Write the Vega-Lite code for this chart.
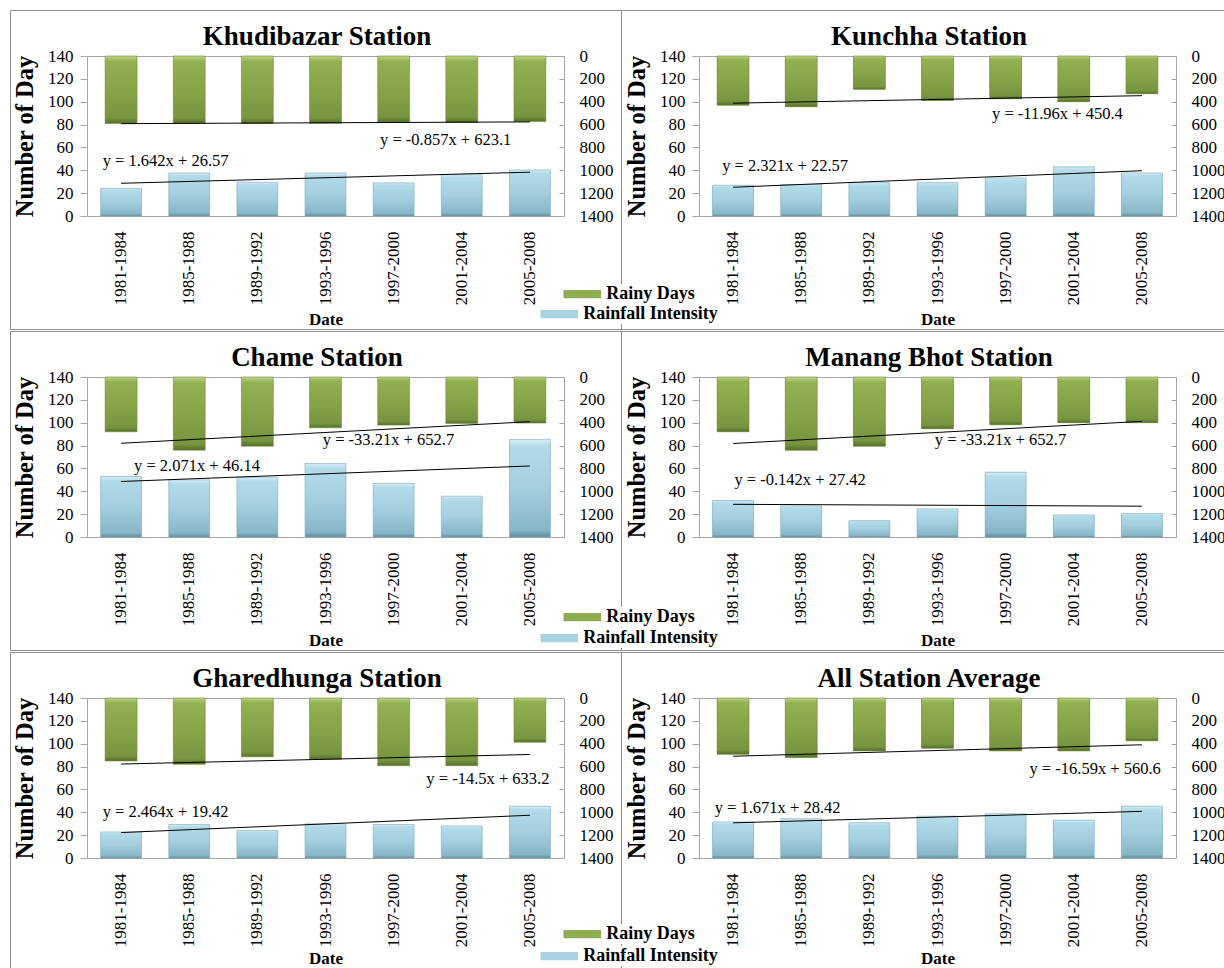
{
  "$schema": "https://vega.github.io/schema/vega-lite/v6.json",
  "padding": {"left": 9, "top": 9, "right": 0, "bottom": 0},
  "autosize": {"type": "pad"},
  "background": "white",
  "datasets": {
    "bars": [
      {"station": "Khudibazar", "period": "1981-1984", "idx": 1, "intensity": 24.0, "rainy_days": 590},
      {"station": "Khudibazar", "period": "1985-1988", "idx": 2, "intensity": 37.7, "rainy_days": 588},
      {"station": "Khudibazar", "period": "1989-1992", "idx": 3, "intensity": 29.5, "rainy_days": 590},
      {"station": "Khudibazar", "period": "1993-1996", "idx": 4, "intensity": 37.7, "rainy_days": 588},
      {"station": "Khudibazar", "period": "1997-2000", "idx": 5, "intensity": 29.0, "rainy_days": 578},
      {"station": "Khudibazar", "period": "2001-2004", "idx": 6, "intensity": 36.2, "rainy_days": 582},
      {"station": "Khudibazar", "period": "2005-2008", "idx": 7, "intensity": 40.3, "rainy_days": 574},
      {"station": "Kunchha", "period": "1981-1984", "idx": 1, "intensity": 26.9, "rainy_days": 430},
      {"station": "Kunchha", "period": "1985-1988", "idx": 2, "intensity": 27.5, "rainy_days": 444},
      {"station": "Kunchha", "period": "1989-1992", "idx": 3, "intensity": 29.2, "rainy_days": 292},
      {"station": "Kunchha", "period": "1993-1996", "idx": 4, "intensity": 29.2, "rainy_days": 389},
      {"station": "Kunchha", "period": "1997-2000", "idx": 5, "intensity": 33.3, "rainy_days": 374},
      {"station": "Kunchha", "period": "2001-2004", "idx": 6, "intensity": 43.0, "rainy_days": 400},
      {"station": "Kunchha", "period": "2005-2008", "idx": 7, "intensity": 37.7, "rainy_days": 330},
      {"station": "Chame", "period": "1981-1984", "idx": 1, "intensity": 52.9, "rainy_days": 479},
      {"station": "Chame", "period": "1985-1988", "idx": 2, "intensity": 50.0, "rainy_days": 640},
      {"station": "Chame", "period": "1989-1992", "idx": 3, "intensity": 52.3, "rainy_days": 605},
      {"station": "Chame", "period": "1993-1996", "idx": 4, "intensity": 64.3, "rainy_days": 444},
      {"station": "Chame", "period": "1997-2000", "idx": 5, "intensity": 46.8, "rainy_days": 421},
      {"station": "Chame", "period": "2001-2004", "idx": 6, "intensity": 35.7, "rainy_days": 406},
      {"station": "Chame", "period": "2005-2008", "idx": 7, "intensity": 85.4, "rainy_days": 403},
      {"station": "Manang Bhot", "period": "1981-1984", "idx": 1, "intensity": 31.9, "rainy_days": 479},
      {"station": "Manang Bhot", "period": "1985-1988", "idx": 2, "intensity": 27.2, "rainy_days": 640},
      {"station": "Manang Bhot", "period": "1989-1992", "idx": 3, "intensity": 14.3, "rainy_days": 605},
      {"station": "Manang Bhot", "period": "1993-1996", "idx": 4, "intensity": 24.6, "rainy_days": 453},
      {"station": "Manang Bhot", "period": "1997-2000", "idx": 5, "intensity": 56.7, "rainy_days": 418},
      {"station": "Manang Bhot", "period": "2001-2004", "idx": 6, "intensity": 19.3, "rainy_days": 400},
      {"station": "Manang Bhot", "period": "2005-2008", "idx": 7, "intensity": 20.5, "rainy_days": 400},
      {"station": "Gharedhunga", "period": "1981-1984", "idx": 1, "intensity": 22.8, "rainy_days": 551},
      {"station": "Gharedhunga", "period": "1985-1988", "idx": 2, "intensity": 29.3, "rainy_days": 580},
      {"station": "Gharedhunga", "period": "1989-1992", "idx": 3, "intensity": 24.0, "rainy_days": 515},
      {"station": "Gharedhunga", "period": "1993-1996", "idx": 4, "intensity": 29.9, "rainy_days": 536},
      {"station": "Gharedhunga", "period": "1997-2000", "idx": 5, "intensity": 29.3, "rainy_days": 592},
      {"station": "Gharedhunga", "period": "2001-2004", "idx": 6, "intensity": 28.1, "rainy_days": 592},
      {"station": "Gharedhunga", "period": "2005-2008", "idx": 7, "intensity": 45.4, "rainy_days": 387},
      {"station": "All Station Average", "period": "1981-1984", "idx": 1, "intensity": 31.6, "rainy_days": 492},
      {"station": "All Station Average", "period": "1985-1988", "idx": 2, "intensity": 34.3, "rainy_days": 521},
      {"station": "All Station Average", "period": "1989-1992", "idx": 3, "intensity": 30.8, "rainy_days": 463},
      {"station": "All Station Average", "period": "1993-1996", "idx": 4, "intensity": 36.6, "rainy_days": 439},
      {"station": "All Station Average", "period": "1997-2000", "idx": 5, "intensity": 38.7, "rainy_days": 463},
      {"station": "All Station Average", "period": "2001-2004", "idx": 6, "intensity": 33.1, "rainy_days": 463},
      {"station": "All Station Average", "period": "2005-2008", "idx": 7, "intensity": 45.4, "rainy_days": 375}
    ],
    "notes": [
      {"station": "Khudibazar", "label": "y = 1.642x + 26.57", "nx": 0.73, "ny": 48.5},
      {"station": "Khudibazar", "label": "y = -0.857x + 623.1", "nx": 4.8, "ny": 66.1},
      {"station": "Kunchha", "label": "y = -11.96x + 450.4", "nx": 4.8, "ny": 89.4},
      {"station": "Kunchha", "label": "y = 2.321x + 22.57", "nx": 0.84, "ny": 43.6},
      {"station": "Chame", "label": "y = -33.21x + 652.7", "nx": 3.96, "ny": 84.5},
      {"station": "Chame", "label": "y = 2.071x + 46.14", "nx": 1.19, "ny": 62.0},
      {"station": "Manang Bhot", "label": "y = -33.21x + 652.7", "nx": 3.96, "ny": 84.5},
      {"station": "Manang Bhot", "label": "y = -0.142x + 27.42", "nx": 1.02, "ny": 50.3},
      {"station": "Gharedhunga", "label": "y = -14.5x + 633.2", "nx": 5.48, "ny": 68.8},
      {"station": "Gharedhunga", "label": "y = 2.464x + 19.42", "nx": 0.73, "ny": 40.4},
      {"station": "All Station Average", "label": "y = -16.59x + 560.6", "nx": 5.35, "ny": 77.6},
      {"station": "All Station Average", "label": "y = 1.671x + 28.42", "nx": 0.73, "ny": 43.9}
    ]
  },
  "vconcat": [
    {
      "hconcat": [
        {
          "width": 611, "height": 319,
          "title": {"text": "Khudibazar Station", "offset": -62, "baseline": "alphabetic", "dx": 1.5},
          "layer": [
            {
              "data": {"name": "bars"},
              "transform": [{"filter": {"field": "station", "equal": "Khudibazar"}}],
              "mark": {"type": "bar", "stroke": "#7aa8b8", "strokeWidth": 0.6, "fill": {"gradient": "linear", "x1": 0, "y1": 0, "x2": 0, "y2": 1, "stops": [{"offset": 0, "color": "#d6eef6"}, {"offset": 0.07, "color": "#b3dbe9"}, {"offset": 0.5, "color": "#a3cfdf"}, {"offset": 0.93, "color": "#87b6c7"}, {"offset": 1, "color": "#5d8c9c"}]}},
              "encoding": {
                "x": {"field": "period", "type": "ordinal", "sort": null, "scale": {"range": [77, 554], "paddingInner": 0.4, "paddingOuter": 0.2}, "axis": {"orient": "bottom", "offset": -113, "title": "Date", "labelAngle": -90, "ticks": false, "tickSize": 0, "labelPadding": 15, "titlePadding": 7}},
                "y": {"field": "intensity", "type": "quantitative", "scale": {"domain": [0, 140], "range": [206, 46], "nice": false}, "axis": {"orient": "left", "offset": -77, "values": [0, 20, 40, 60, 80, 100, 120, 140], "title": "Number of Day", "titleFontSize": 24.5, "tickSize": 7, "labelPadding": 7, "titlePadding": 10}}
              }
            },
            {
              "data": {"name": "bars"},
              "transform": [{"filter": {"field": "station", "equal": "Khudibazar"}}],
              "mark": {"type": "bar", "width": {"band": 0.78}, "stroke": "#6f8b3a", "strokeWidth": 0.6, "fill": {"gradient": "linear", "x1": 0, "y1": 0, "x2": 0, "y2": 1, "stops": [{"offset": 0, "color": "#bcd487"}, {"offset": 0.08, "color": "#93b153"}, {"offset": 0.5, "color": "#87a548"}, {"offset": 0.92, "color": "#779440"}, {"offset": 1, "color": "#566f29"}]}},
              "encoding": {
                "x": {"field": "period", "type": "ordinal", "sort": null, "scale": {"range": [77, 554], "paddingInner": 0.4, "paddingOuter": 0.2}, "axis": null},
                "y": {"field": "rainy_days", "type": "quantitative", "scale": {"domain": [0, 1400], "range": [46, 206], "nice": false}, "axis": {"orient": "right", "offset": -57, "values": [0, 200, 400, 600, 800, 1000, 1200, 1400], "format": "d", "title": null, "tickSize": -5, "labelPadding": 20}}
              }
            },
            {
              "data": {"name": "bars"},
              "transform": [{"filter": {"field": "station", "equal": "Khudibazar"}}, {"regression": "intensity", "on": "idx"}],
              "mark": {"type": "line", "color": "black", "strokeWidth": 1},
              "encoding": {
                "x": {"field": "idx", "type": "quantitative", "scale": {"domain": [0.5, 7.5], "range": [77, 554], "nice": false, "zero": false}, "axis": {"orient": "top", "offset": -46, "labels": false, "ticks": false, "title": null, "grid": false}},
                "y": {"field": "intensity", "type": "quantitative", "scale": {"domain": [0, 140], "range": [206, 46], "nice": false}, "axis": null}
              }
            },
            {
              "data": {"name": "bars"},
              "transform": [{"filter": {"field": "station", "equal": "Khudibazar"}}, {"regression": "rainy_days", "on": "idx"}],
              "mark": {"type": "line", "color": "black", "strokeWidth": 1},
              "encoding": {
                "x": {"field": "idx", "type": "quantitative", "scale": {"domain": [0.5, 7.5], "range": [77, 554], "nice": false, "zero": false}, "axis": null},
                "y": {"field": "rainy_days", "type": "quantitative", "scale": {"domain": [0, 1400], "range": [46, 206], "nice": false}, "axis": null}
              }
            },
            {
              "data": {"name": "notes"},
              "transform": [{"filter": {"field": "station", "equal": "Khudibazar"}}],
              "mark": {"type": "text", "align": "left", "baseline": "middle", "font": "Liberation Serif", "fontSize": 16.5, "color": "black"},
              "encoding": {
                "x": {"field": "nx", "type": "quantitative", "scale": {"domain": [0.5, 7.5], "range": [77, 554], "nice": false, "zero": false}, "axis": null},
                "y": {"field": "ny", "type": "quantitative", "scale": {"domain": [0, 140], "range": [206, 46], "nice": false}, "axis": null},
                "text": {"field": "label"}
              }
            }
          ],
          "resolve": {"scale": {"x": "independent", "y": "independent"}}
        },
        {
          "width": 605, "height": 319,
          "title": {"text": "Kunchha Station", "offset": -62, "baseline": "alphabetic", "dx": 5.5},
          "layer": [
            {
              "data": {"name": "bars"},
              "transform": [{"filter": {"field": "station", "equal": "Kunchha"}}],
              "mark": {"type": "bar"},
              "encoding": {
                "x": {"field": "period", "type": "ordinal", "sort": null, "scale": {"range": [78, 555], "paddingInner": 0.4, "paddingOuter": 0.2}, "axis": null},
                "y": {"field": "intensity", "type": "quantitative", "scale": {"domain": [0, 140], "range": [206, 46], "nice": false}, "axis": null},
                "color": {"datum": "Rainfall Intensity", "scale": {"domain": ["Rainfall Intensity"], "range": ["#a7d2e2"]}, "legend": {"orient": "none", "legendX": -71.75, "legendY": 294, "title": null}}
              }
            },
            {
              "data": {"name": "bars"},
              "transform": [{"filter": {"field": "station", "equal": "Kunchha"}}],
              "mark": {"type": "bar", "width": {"band": 0.78}},
              "encoding": {
                "x": {"field": "period", "type": "ordinal", "sort": null, "scale": {"range": [78, 555], "paddingInner": 0.4, "paddingOuter": 0.2}, "axis": null},
                "y": {"field": "rainy_days", "type": "quantitative", "scale": {"domain": [0, 1400], "range": [46, 206], "nice": false}, "axis": null},
                "fill": {"datum": "Rainy Days", "scale": {"domain": ["Rainy Days"], "range": ["#8fad50"]}, "legend": {"orient": "none", "legendX": -48.75, "legendY": 274, "title": null}}
              }
            },
            {
              "data": {"name": "bars"},
              "transform": [{"filter": {"field": "station", "equal": "Kunchha"}}],
              "mark": {"type": "bar", "stroke": "#7aa8b8", "strokeWidth": 0.6, "fill": {"gradient": "linear", "x1": 0, "y1": 0, "x2": 0, "y2": 1, "stops": [{"offset": 0, "color": "#d6eef6"}, {"offset": 0.07, "color": "#b3dbe9"}, {"offset": 0.5, "color": "#a3cfdf"}, {"offset": 0.93, "color": "#87b6c7"}, {"offset": 1, "color": "#5d8c9c"}]}},
              "encoding": {
                "x": {"field": "period", "type": "ordinal", "sort": null, "scale": {"range": [78, 555], "paddingInner": 0.4, "paddingOuter": 0.2}, "axis": {"orient": "bottom", "offset": -113, "title": "Date", "labelAngle": -90, "ticks": false, "tickSize": 0, "labelPadding": 15, "titlePadding": 7}},
                "y": {"field": "intensity", "type": "quantitative", "scale": {"domain": [0, 140], "range": [206, 46], "nice": false}, "axis": {"orient": "left", "offset": -78, "values": [0, 20, 40, 60, 80, 100, 120, 140], "title": "Number of Day", "titleFontSize": 24.5, "tickSize": 7, "labelPadding": 7, "titlePadding": 10}}
              }
            },
            {
              "data": {"name": "bars"},
              "transform": [{"filter": {"field": "station", "equal": "Kunchha"}}],
              "mark": {"type": "bar", "width": {"band": 0.78}, "stroke": "#6f8b3a", "strokeWidth": 0.6, "fill": {"gradient": "linear", "x1": 0, "y1": 0, "x2": 0, "y2": 1, "stops": [{"offset": 0, "color": "#bcd487"}, {"offset": 0.08, "color": "#93b153"}, {"offset": 0.5, "color": "#87a548"}, {"offset": 0.92, "color": "#779440"}, {"offset": 1, "color": "#566f29"}]}},
              "encoding": {
                "x": {"field": "period", "type": "ordinal", "sort": null, "scale": {"range": [78, 555], "paddingInner": 0.4, "paddingOuter": 0.2}, "axis": null},
                "y": {"field": "rainy_days", "type": "quantitative", "scale": {"domain": [0, 1400], "range": [46, 206], "nice": false}, "axis": {"orient": "right", "offset": -50, "values": [0, 200, 400, 600, 800, 1000, 1200, 1400], "format": "d", "title": null, "tickSize": -5, "labelPadding": 20}}
              }
            },
            {
              "data": {"name": "bars"},
              "transform": [{"filter": {"field": "station", "equal": "Kunchha"}}, {"regression": "intensity", "on": "idx"}],
              "mark": {"type": "line", "color": "black", "strokeWidth": 1},
              "encoding": {
                "x": {"field": "idx", "type": "quantitative", "scale": {"domain": [0.5, 7.5], "range": [78, 555], "nice": false, "zero": false}, "axis": {"orient": "top", "offset": -46, "labels": false, "ticks": false, "title": null, "grid": false}},
                "y": {"field": "intensity", "type": "quantitative", "scale": {"domain": [0, 140], "range": [206, 46], "nice": false}, "axis": null}
              }
            },
            {
              "data": {"name": "bars"},
              "transform": [{"filter": {"field": "station", "equal": "Kunchha"}}, {"regression": "rainy_days", "on": "idx"}],
              "mark": {"type": "line", "color": "black", "strokeWidth": 1},
              "encoding": {
                "x": {"field": "idx", "type": "quantitative", "scale": {"domain": [0.5, 7.5], "range": [78, 555], "nice": false, "zero": false}, "axis": null},
                "y": {"field": "rainy_days", "type": "quantitative", "scale": {"domain": [0, 1400], "range": [46, 206], "nice": false}, "axis": null}
              }
            },
            {
              "data": {"name": "notes"},
              "transform": [{"filter": {"field": "station", "equal": "Kunchha"}}],
              "mark": {"type": "text", "align": "left", "baseline": "middle", "font": "Liberation Serif", "fontSize": 16.5, "color": "black"},
              "encoding": {
                "x": {"field": "nx", "type": "quantitative", "scale": {"domain": [0.5, 7.5], "range": [78, 555], "nice": false, "zero": false}, "axis": null},
                "y": {"field": "ny", "type": "quantitative", "scale": {"domain": [0, 140], "range": [206, 46], "nice": false}, "axis": null},
                "text": {"field": "label"}
              }
            }
          ],
          "resolve": {"scale": {"x": "independent", "y": "independent"}}
        }
      ],
      "spacing": 0,
      "bounds": "flush",
      "resolve": {"scale": {"color": "independent", "fill": "independent"}, "legend": {"color": "independent", "fill": "independent"}}
    },
    {
      "hconcat": [
        {
          "width": 611, "height": 319,
          "title": {"text": "Chame Station", "offset": -62, "baseline": "alphabetic", "dx": 1.5},
          "layer": [
            {
              "data": {"name": "bars"},
              "transform": [{"filter": {"field": "station", "equal": "Chame"}}],
              "mark": {"type": "bar", "stroke": "#7aa8b8", "strokeWidth": 0.6, "fill": {"gradient": "linear", "x1": 0, "y1": 0, "x2": 0, "y2": 1, "stops": [{"offset": 0, "color": "#d6eef6"}, {"offset": 0.07, "color": "#b3dbe9"}, {"offset": 0.5, "color": "#a3cfdf"}, {"offset": 0.93, "color": "#87b6c7"}, {"offset": 1, "color": "#5d8c9c"}]}},
              "encoding": {
                "x": {"field": "period", "type": "ordinal", "sort": null, "scale": {"range": [77, 554], "paddingInner": 0.4, "paddingOuter": 0.2}, "axis": {"orient": "bottom", "offset": -113, "title": "Date", "labelAngle": -90, "ticks": false, "tickSize": 0, "labelPadding": 15, "titlePadding": 7}},
                "y": {"field": "intensity", "type": "quantitative", "scale": {"domain": [0, 140], "range": [206, 46], "nice": false}, "axis": {"orient": "left", "offset": -77, "values": [0, 20, 40, 60, 80, 100, 120, 140], "title": "Number of Day", "titleFontSize": 24.5, "tickSize": 7, "labelPadding": 7, "titlePadding": 10}}
              }
            },
            {
              "data": {"name": "bars"},
              "transform": [{"filter": {"field": "station", "equal": "Chame"}}],
              "mark": {"type": "bar", "width": {"band": 0.78}, "stroke": "#6f8b3a", "strokeWidth": 0.6, "fill": {"gradient": "linear", "x1": 0, "y1": 0, "x2": 0, "y2": 1, "stops": [{"offset": 0, "color": "#bcd487"}, {"offset": 0.08, "color": "#93b153"}, {"offset": 0.5, "color": "#87a548"}, {"offset": 0.92, "color": "#779440"}, {"offset": 1, "color": "#566f29"}]}},
              "encoding": {
                "x": {"field": "period", "type": "ordinal", "sort": null, "scale": {"range": [77, 554], "paddingInner": 0.4, "paddingOuter": 0.2}, "axis": null},
                "y": {"field": "rainy_days", "type": "quantitative", "scale": {"domain": [0, 1400], "range": [46, 206], "nice": false}, "axis": {"orient": "right", "offset": -57, "values": [0, 200, 400, 600, 800, 1000, 1200, 1400], "format": "d", "title": null, "tickSize": -5, "labelPadding": 20}}
              }
            },
            {
              "data": {"name": "bars"},
              "transform": [{"filter": {"field": "station", "equal": "Chame"}}, {"regression": "intensity", "on": "idx"}],
              "mark": {"type": "line", "color": "black", "strokeWidth": 1},
              "encoding": {
                "x": {"field": "idx", "type": "quantitative", "scale": {"domain": [0.5, 7.5], "range": [77, 554], "nice": false, "zero": false}, "axis": {"orient": "top", "offset": -46, "labels": false, "ticks": false, "title": null, "grid": false}},
                "y": {"field": "intensity", "type": "quantitative", "scale": {"domain": [0, 140], "range": [206, 46], "nice": false}, "axis": null}
              }
            },
            {
              "data": {"name": "bars"},
              "transform": [{"filter": {"field": "station", "equal": "Chame"}}, {"regression": "rainy_days", "on": "idx"}],
              "mark": {"type": "line", "color": "black", "strokeWidth": 1},
              "encoding": {
                "x": {"field": "idx", "type": "quantitative", "scale": {"domain": [0.5, 7.5], "range": [77, 554], "nice": false, "zero": false}, "axis": null},
                "y": {"field": "rainy_days", "type": "quantitative", "scale": {"domain": [0, 1400], "range": [46, 206], "nice": false}, "axis": null}
              }
            },
            {
              "data": {"name": "notes"},
              "transform": [{"filter": {"field": "station", "equal": "Chame"}}],
              "mark": {"type": "text", "align": "left", "baseline": "middle", "font": "Liberation Serif", "fontSize": 16.5, "color": "black"},
              "encoding": {
                "x": {"field": "nx", "type": "quantitative", "scale": {"domain": [0.5, 7.5], "range": [77, 554], "nice": false, "zero": false}, "axis": null},
                "y": {"field": "ny", "type": "quantitative", "scale": {"domain": [0, 140], "range": [206, 46], "nice": false}, "axis": null},
                "text": {"field": "label"}
              }
            }
          ],
          "resolve": {"scale": {"x": "independent", "y": "independent"}}
        },
        {
          "width": 605, "height": 319,
          "title": {"text": "Manang Bhot Station", "offset": -62, "baseline": "alphabetic", "dx": 5.5},
          "layer": [
            {
              "data": {"name": "bars"},
              "transform": [{"filter": {"field": "station", "equal": "Manang Bhot"}}],
              "mark": {"type": "bar"},
              "encoding": {
                "x": {"field": "period", "type": "ordinal", "sort": null, "scale": {"range": [78, 555], "paddingInner": 0.4, "paddingOuter": 0.2}, "axis": null},
                "y": {"field": "intensity", "type": "quantitative", "scale": {"domain": [0, 140], "range": [206, 46], "nice": false}, "axis": null},
                "color": {"datum": "Rainfall Intensity", "scale": {"domain": ["Rainfall Intensity"], "range": ["#a7d2e2"]}, "legend": {"orient": "none", "legendX": -71.75, "legendY": 297, "title": null}}
              }
            },
            {
              "data": {"name": "bars"},
              "transform": [{"filter": {"field": "station", "equal": "Manang Bhot"}}],
              "mark": {"type": "bar", "width": {"band": 0.78}},
              "encoding": {
                "x": {"field": "period", "type": "ordinal", "sort": null, "scale": {"range": [78, 555], "paddingInner": 0.4, "paddingOuter": 0.2}, "axis": null},
                "y": {"field": "rainy_days", "type": "quantitative", "scale": {"domain": [0, 1400], "range": [46, 206], "nice": false}, "axis": null},
                "fill": {"datum": "Rainy Days", "scale": {"domain": ["Rainy Days"], "range": ["#8fad50"]}, "legend": {"orient": "none", "legendX": -48.75, "legendY": 276, "title": null}}
              }
            },
            {
              "data": {"name": "bars"},
              "transform": [{"filter": {"field": "station", "equal": "Manang Bhot"}}],
              "mark": {"type": "bar", "stroke": "#7aa8b8", "strokeWidth": 0.6, "fill": {"gradient": "linear", "x1": 0, "y1": 0, "x2": 0, "y2": 1, "stops": [{"offset": 0, "color": "#d6eef6"}, {"offset": 0.07, "color": "#b3dbe9"}, {"offset": 0.5, "color": "#a3cfdf"}, {"offset": 0.93, "color": "#87b6c7"}, {"offset": 1, "color": "#5d8c9c"}]}},
              "encoding": {
                "x": {"field": "period", "type": "ordinal", "sort": null, "scale": {"range": [78, 555], "paddingInner": 0.4, "paddingOuter": 0.2}, "axis": {"orient": "bottom", "offset": -113, "title": "Date", "labelAngle": -90, "ticks": false, "tickSize": 0, "labelPadding": 15, "titlePadding": 7}},
                "y": {"field": "intensity", "type": "quantitative", "scale": {"domain": [0, 140], "range": [206, 46], "nice": false}, "axis": {"orient": "left", "offset": -78, "values": [0, 20, 40, 60, 80, 100, 120, 140], "title": "Number of Day", "titleFontSize": 24.5, "tickSize": 7, "labelPadding": 7, "titlePadding": 10}}
              }
            },
            {
              "data": {"name": "bars"},
              "transform": [{"filter": {"field": "station", "equal": "Manang Bhot"}}],
              "mark": {"type": "bar", "width": {"band": 0.78}, "stroke": "#6f8b3a", "strokeWidth": 0.6, "fill": {"gradient": "linear", "x1": 0, "y1": 0, "x2": 0, "y2": 1, "stops": [{"offset": 0, "color": "#bcd487"}, {"offset": 0.08, "color": "#93b153"}, {"offset": 0.5, "color": "#87a548"}, {"offset": 0.92, "color": "#779440"}, {"offset": 1, "color": "#566f29"}]}},
              "encoding": {
                "x": {"field": "period", "type": "ordinal", "sort": null, "scale": {"range": [78, 555], "paddingInner": 0.4, "paddingOuter": 0.2}, "axis": null},
                "y": {"field": "rainy_days", "type": "quantitative", "scale": {"domain": [0, 1400], "range": [46, 206], "nice": false}, "axis": {"orient": "right", "offset": -50, "values": [0, 200, 400, 600, 800, 1000, 1200, 1400], "format": "d", "title": null, "tickSize": -5, "labelPadding": 20}}
              }
            },
            {
              "data": {"name": "bars"},
              "transform": [{"filter": {"field": "station", "equal": "Manang Bhot"}}, {"regression": "intensity", "on": "idx"}],
              "mark": {"type": "line", "color": "black", "strokeWidth": 1},
              "encoding": {
                "x": {"field": "idx", "type": "quantitative", "scale": {"domain": [0.5, 7.5], "range": [78, 555], "nice": false, "zero": false}, "axis": {"orient": "top", "offset": -46, "labels": false, "ticks": false, "title": null, "grid": false}},
                "y": {"field": "intensity", "type": "quantitative", "scale": {"domain": [0, 140], "range": [206, 46], "nice": false}, "axis": null}
              }
            },
            {
              "data": {"name": "bars"},
              "transform": [{"filter": {"field": "station", "equal": "Manang Bhot"}}, {"regression": "rainy_days", "on": "idx"}],
              "mark": {"type": "line", "color": "black", "strokeWidth": 1},
              "encoding": {
                "x": {"field": "idx", "type": "quantitative", "scale": {"domain": [0.5, 7.5], "range": [78, 555], "nice": false, "zero": false}, "axis": null},
                "y": {"field": "rainy_days", "type": "quantitative", "scale": {"domain": [0, 1400], "range": [46, 206], "nice": false}, "axis": null}
              }
            },
            {
              "data": {"name": "notes"},
              "transform": [{"filter": {"field": "station", "equal": "Manang Bhot"}}],
              "mark": {"type": "text", "align": "left", "baseline": "middle", "font": "Liberation Serif", "fontSize": 16.5, "color": "black"},
              "encoding": {
                "x": {"field": "nx", "type": "quantitative", "scale": {"domain": [0.5, 7.5], "range": [78, 555], "nice": false, "zero": false}, "axis": null},
                "y": {"field": "ny", "type": "quantitative", "scale": {"domain": [0, 140], "range": [206, 46], "nice": false}, "axis": null},
                "text": {"field": "label"}
              }
            }
          ],
          "resolve": {"scale": {"x": "independent", "y": "independent"}}
        }
      ],
      "spacing": 0,
      "bounds": "flush",
      "resolve": {"scale": {"color": "independent", "fill": "independent"}, "legend": {"color": "independent", "fill": "independent"}}
    },
    {
      "hconcat": [
        {
          "width": 611, "height": 318,
          "title": {"text": "Gharedhunga Station", "offset": -62, "baseline": "alphabetic", "dx": 1.5},
          "layer": [
            {
              "data": {"name": "bars"},
              "transform": [{"filter": {"field": "station", "equal": "Gharedhunga"}}],
              "mark": {"type": "bar", "stroke": "#7aa8b8", "strokeWidth": 0.6, "fill": {"gradient": "linear", "x1": 0, "y1": 0, "x2": 0, "y2": 1, "stops": [{"offset": 0, "color": "#d6eef6"}, {"offset": 0.07, "color": "#b3dbe9"}, {"offset": 0.5, "color": "#a3cfdf"}, {"offset": 0.93, "color": "#87b6c7"}, {"offset": 1, "color": "#5d8c9c"}]}},
              "encoding": {
                "x": {"field": "period", "type": "ordinal", "sort": null, "scale": {"range": [77, 554], "paddingInner": 0.4, "paddingOuter": 0.2}, "axis": {"orient": "bottom", "offset": -112, "title": "Date", "labelAngle": -90, "ticks": false, "tickSize": 0, "labelPadding": 15, "titlePadding": 4}},
                "y": {"field": "intensity", "type": "quantitative", "scale": {"domain": [0, 140], "range": [206, 46], "nice": false}, "axis": {"orient": "left", "offset": -77, "values": [0, 20, 40, 60, 80, 100, 120, 140], "title": "Number of Day", "titleFontSize": 24.5, "tickSize": 7, "labelPadding": 7, "titlePadding": 10}}
              }
            },
            {
              "data": {"name": "bars"},
              "transform": [{"filter": {"field": "station", "equal": "Gharedhunga"}}],
              "mark": {"type": "bar", "width": {"band": 0.78}, "stroke": "#6f8b3a", "strokeWidth": 0.6, "fill": {"gradient": "linear", "x1": 0, "y1": 0, "x2": 0, "y2": 1, "stops": [{"offset": 0, "color": "#bcd487"}, {"offset": 0.08, "color": "#93b153"}, {"offset": 0.5, "color": "#87a548"}, {"offset": 0.92, "color": "#779440"}, {"offset": 1, "color": "#566f29"}]}},
              "encoding": {
                "x": {"field": "period", "type": "ordinal", "sort": null, "scale": {"range": [77, 554], "paddingInner": 0.4, "paddingOuter": 0.2}, "axis": null},
                "y": {"field": "rainy_days", "type": "quantitative", "scale": {"domain": [0, 1400], "range": [46, 206], "nice": false}, "axis": {"orient": "right", "offset": -57, "values": [0, 200, 400, 600, 800, 1000, 1200, 1400], "format": "d", "title": null, "tickSize": -5, "labelPadding": 20}}
              }
            },
            {
              "data": {"name": "bars"},
              "transform": [{"filter": {"field": "station", "equal": "Gharedhunga"}}, {"regression": "intensity", "on": "idx"}],
              "mark": {"type": "line", "color": "black", "strokeWidth": 1},
              "encoding": {
                "x": {"field": "idx", "type": "quantitative", "scale": {"domain": [0.5, 7.5], "range": [77, 554], "nice": false, "zero": false}, "axis": {"orient": "top", "offset": -46, "labels": false, "ticks": false, "title": null, "grid": false}},
                "y": {"field": "intensity", "type": "quantitative", "scale": {"domain": [0, 140], "range": [206, 46], "nice": false}, "axis": null}
              }
            },
            {
              "data": {"name": "bars"},
              "transform": [{"filter": {"field": "station", "equal": "Gharedhunga"}}, {"regression": "rainy_days", "on": "idx"}],
              "mark": {"type": "line", "color": "black", "strokeWidth": 1},
              "encoding": {
                "x": {"field": "idx", "type": "quantitative", "scale": {"domain": [0.5, 7.5], "range": [77, 554], "nice": false, "zero": false}, "axis": null},
                "y": {"field": "rainy_days", "type": "quantitative", "scale": {"domain": [0, 1400], "range": [46, 206], "nice": false}, "axis": null}
              }
            },
            {
              "data": {"name": "notes"},
              "transform": [{"filter": {"field": "station", "equal": "Gharedhunga"}}],
              "mark": {"type": "text", "align": "left", "baseline": "middle", "font": "Liberation Serif", "fontSize": 16.5, "color": "black"},
              "encoding": {
                "x": {"field": "nx", "type": "quantitative", "scale": {"domain": [0.5, 7.5], "range": [77, 554], "nice": false, "zero": false}, "axis": null},
                "y": {"field": "ny", "type": "quantitative", "scale": {"domain": [0, 140], "range": [206, 46], "nice": false}, "axis": null},
                "text": {"field": "label"}
              }
            }
          ],
          "resolve": {"scale": {"x": "independent", "y": "independent"}}
        },
        {
          "width": 605, "height": 318,
          "title": {"text": "All Station Average", "offset": -62, "baseline": "alphabetic", "dx": 5.5},
          "layer": [
            {
              "data": {"name": "bars"},
              "transform": [{"filter": {"field": "station", "equal": "All Station Average"}}],
              "mark": {"type": "bar"},
              "encoding": {
                "x": {"field": "period", "type": "ordinal", "sort": null, "scale": {"range": [78, 555], "paddingInner": 0.4, "paddingOuter": 0.2}, "axis": null},
                "y": {"field": "intensity", "type": "quantitative", "scale": {"domain": [0, 140], "range": [206, 46], "nice": false}, "axis": null},
                "color": {"datum": "Rainfall Intensity", "scale": {"domain": ["Rainfall Intensity"], "range": ["#a7d2e2"]}, "legend": {"orient": "none", "legendX": -71.75, "legendY": 294, "title": null}}
              }
            },
            {
              "data": {"name": "bars"},
              "transform": [{"filter": {"field": "station", "equal": "All Station Average"}}],
              "mark": {"type": "bar", "width": {"band": 0.78}},
              "encoding": {
                "x": {"field": "period", "type": "ordinal", "sort": null, "scale": {"range": [78, 555], "paddingInner": 0.4, "paddingOuter": 0.2}, "axis": null},
                "y": {"field": "rainy_days", "type": "quantitative", "scale": {"domain": [0, 1400], "range": [46, 206], "nice": false}, "axis": null},
                "fill": {"datum": "Rainy Days", "scale": {"domain": ["Rainy Days"], "range": ["#8fad50"]}, "legend": {"orient": "none", "legendX": -48.75, "legendY": 272, "title": null}}
              }
            },
            {
              "data": {"name": "bars"},
              "transform": [{"filter": {"field": "station", "equal": "All Station Average"}}],
              "mark": {"type": "bar", "stroke": "#7aa8b8", "strokeWidth": 0.6, "fill": {"gradient": "linear", "x1": 0, "y1": 0, "x2": 0, "y2": 1, "stops": [{"offset": 0, "color": "#d6eef6"}, {"offset": 0.07, "color": "#b3dbe9"}, {"offset": 0.5, "color": "#a3cfdf"}, {"offset": 0.93, "color": "#87b6c7"}, {"offset": 1, "color": "#5d8c9c"}]}},
              "encoding": {
                "x": {"field": "period", "type": "ordinal", "sort": null, "scale": {"range": [78, 555], "paddingInner": 0.4, "paddingOuter": 0.2}, "axis": {"orient": "bottom", "offset": -112, "title": "Date", "labelAngle": -90, "ticks": false, "tickSize": 0, "labelPadding": 15, "titlePadding": 4}},
                "y": {"field": "intensity", "type": "quantitative", "scale": {"domain": [0, 140], "range": [206, 46], "nice": false}, "axis": {"orient": "left", "offset": -78, "values": [0, 20, 40, 60, 80, 100, 120, 140], "title": "Number of Day", "titleFontSize": 24.5, "tickSize": 7, "labelPadding": 7, "titlePadding": 10}}
              }
            },
            {
              "data": {"name": "bars"},
              "transform": [{"filter": {"field": "station", "equal": "All Station Average"}}],
              "mark": {"type": "bar", "width": {"band": 0.78}, "stroke": "#6f8b3a", "strokeWidth": 0.6, "fill": {"gradient": "linear", "x1": 0, "y1": 0, "x2": 0, "y2": 1, "stops": [{"offset": 0, "color": "#bcd487"}, {"offset": 0.08, "color": "#93b153"}, {"offset": 0.5, "color": "#87a548"}, {"offset": 0.92, "color": "#779440"}, {"offset": 1, "color": "#566f29"}]}},
              "encoding": {
                "x": {"field": "period", "type": "ordinal", "sort": null, "scale": {"range": [78, 555], "paddingInner": 0.4, "paddingOuter": 0.2}, "axis": null},
                "y": {"field": "rainy_days", "type": "quantitative", "scale": {"domain": [0, 1400], "range": [46, 206], "nice": false}, "axis": {"orient": "right", "offset": -50, "values": [0, 200, 400, 600, 800, 1000, 1200, 1400], "format": "d", "title": null, "tickSize": -5, "labelPadding": 20}}
              }
            },
            {
              "data": {"name": "bars"},
              "transform": [{"filter": {"field": "station", "equal": "All Station Average"}}, {"regression": "intensity", "on": "idx"}],
              "mark": {"type": "line", "color": "black", "strokeWidth": 1},
              "encoding": {
                "x": {"field": "idx", "type": "quantitative", "scale": {"domain": [0.5, 7.5], "range": [78, 555], "nice": false, "zero": false}, "axis": {"orient": "top", "offset": -46, "labels": false, "ticks": false, "title": null, "grid": false}},
                "y": {"field": "intensity", "type": "quantitative", "scale": {"domain": [0, 140], "range": [206, 46], "nice": false}, "axis": null}
              }
            },
            {
              "data": {"name": "bars"},
              "transform": [{"filter": {"field": "station", "equal": "All Station Average"}}, {"regression": "rainy_days", "on": "idx"}],
              "mark": {"type": "line", "color": "black", "strokeWidth": 1},
              "encoding": {
                "x": {"field": "idx", "type": "quantitative", "scale": {"domain": [0.5, 7.5], "range": [78, 555], "nice": false, "zero": false}, "axis": null},
                "y": {"field": "rainy_days", "type": "quantitative", "scale": {"domain": [0, 1400], "range": [46, 206], "nice": false}, "axis": null}
              }
            },
            {
              "data": {"name": "notes"},
              "transform": [{"filter": {"field": "station", "equal": "All Station Average"}}],
              "mark": {"type": "text", "align": "left", "baseline": "middle", "font": "Liberation Serif", "fontSize": 16.5, "color": "black"},
              "encoding": {
                "x": {"field": "nx", "type": "quantitative", "scale": {"domain": [0.5, 7.5], "range": [78, 555], "nice": false, "zero": false}, "axis": null},
                "y": {"field": "ny", "type": "quantitative", "scale": {"domain": [0, 140], "range": [206, 46], "nice": false}, "axis": null},
                "text": {"field": "label"}
              }
            }
          ],
          "resolve": {"scale": {"x": "independent", "y": "independent"}}
        }
      ],
      "spacing": 0,
      "bounds": "flush",
      "resolve": {"scale": {"color": "independent", "fill": "independent"}, "legend": {"color": "independent", "fill": "independent"}}
    }
  ],
  "spacing": 0,
  "bounds": "full",
  "resolve": {"scale": {"color": "independent", "fill": "independent"}, "legend": {"color": "independent", "fill": "independent"}},
  "config": {
    "font": "Liberation Serif",
    "view": {"stroke": "#8f8f8f", "strokeWidth": 1},
    "axis": {
      "labelFont": "Liberation Serif", "labelFontSize": 17, "labelColor": "#000000",
      "titleFont": "Liberation Serif", "titleFontSize": 17, "titleFontWeight": "bold", "titleColor": "#000000",
      "domainColor": "#a6a6a6", "tickColor": "#a6a6a6", "grid": false,
      "labelOverlap": false, "labelBound": false, "labelFlush": false
    },
    "title": {"font": "Liberation Serif", "fontSize": 27, "fontWeight": "bold", "color": "#000000", "anchor": "middle", "frame": "group"},
    "legend": {
      "labelFont": "Liberation Serif", "labelFontSize": 18, "labelFontWeight": "bold", "labelColor": "#000000",
      "symbolType": "M-2.5,-0.55H2.5V0.55H-2.5Z", "symbolSize": 225, "symbolStrokeWidth": 0,
      "labelOffset": 15, "padding": 1, "fillColor": "white"
    }
  }
}
